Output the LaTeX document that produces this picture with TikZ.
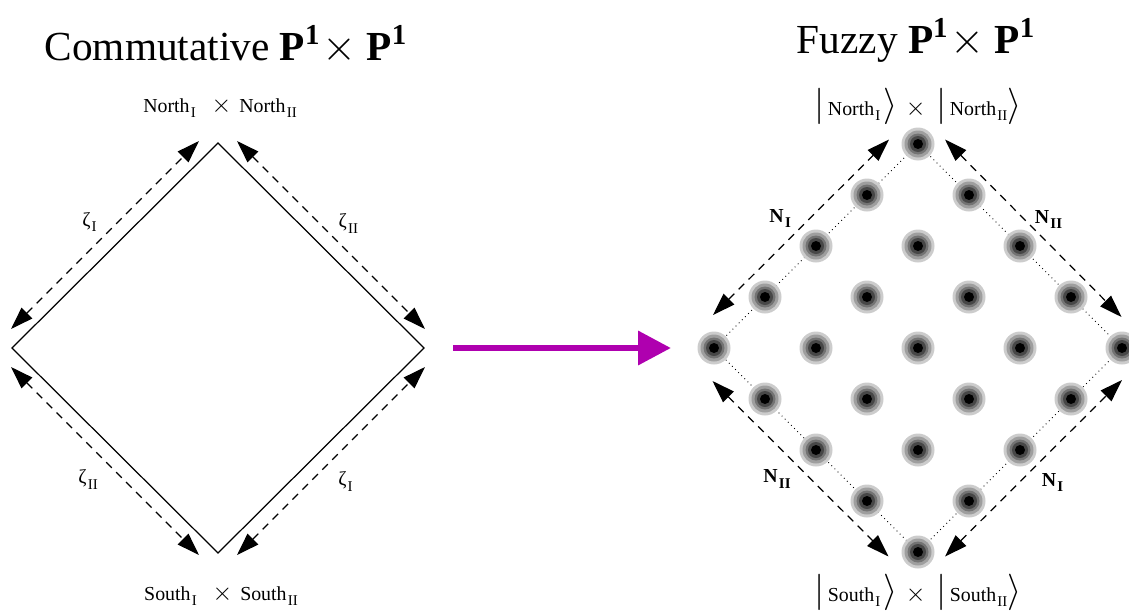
\documentclass[tikz,border=0pt]{standalone}
\usepackage{fontspec}
\setmainfont{Liberation Serif}
\usetikzlibrary{arrows.meta}

\definecolor{mapcolor}{RGB}{175,0,175}
% lowered roman index, as in North_I
\newcommand{\lsub}[1]{\kern0.06em\raisebox{-3.2pt}{\fontsize{8.5}{9}\selectfont#1}}
% large cross and ket delimiters
\newcommand{\bigcross}{{\fontsize{15}{15}\selectfont$\times$}}
\newcommand{\ketl}{{\fontsize{21}{21}\selectfont$|$}}
\newcommand{\ketr}{{\fontsize{21}{21}\selectfont$\rangle$}}

\begin{document}
\begin{tikzpicture}[>={Triangle[length=0.45cm,width=0.3cm]},
    font=\fontsize{11.3}{13.5}\selectfont,
    dasharrow/.style={<->,line width=0.7pt,dash pattern=on 4.5pt off 3.5pt},
    bigtitle/.style={anchor=base,font=\fontsize{23.5}{28}\selectfont}]
    \useasboundingbox (-4.36,-5.24) rectangle (18.22,6.96);

    % commutative side
    \node[bigtitle] (ctitle) at (0.16,5.76) {Commutative $\mathbf{P^1}\!\times\mathbf{P^1}$};
    \node[anchor=base] (cnorth) at (0.04,4.72)
        {North\lsub{I}\hspace{0.8em}\bigcross\hspace{0.4em}North\lsub{II}};
    \node[anchor=base] (csouth) at (0.06,-5.04)
        {South\lsub{I}\hspace{0.8em}\bigcross\hspace{0.4em}South\lsub{II}};

    \coordinate (cN) at (0,4.1);
    \coordinate (cE) at (4.12,0);
    \coordinate (cS) at (0,-4.1);
    \coordinate (cW) at (-4.12,0);
    \draw[line width=0.7pt] (cN)--(cE)--(cS)--(cW)--cycle;

    \coordinate (c1) at (-4.14,0.38);
    \coordinate (c2) at (-0.38,4.14);
    \coordinate (c3) at (0.38,4.14);
    \coordinate (c4) at (4.14,0.38);
    \coordinate (c5) at (-4.14,-0.38);
    \coordinate (c6) at (-0.38,-4.14);
    \coordinate (c7) at (0.38,-4.14);
    \coordinate (c8) at (4.14,-0.38);
    \draw[dasharrow] (c1)--node[pos=0.57,left=0.3cm]{ζ\lsub{I}}(c2);
    \draw[dasharrow] (c3)--node[pos=0.44,right=0.25cm]{ζ\lsub{II}}(c4);
    \draw[dasharrow] (c5)--node[pos=0.6,left=0.39cm]{ζ\lsub{II}}(c6);
    \draw[dasharrow] (c7)--node[pos=0.39,right=0.43cm]{ζ\lsub{I}}(c8);

    % map
    \coordinate (mapstart) at (4.7,0);
    \coordinate (mapend) at (9.06,0);
    \draw[mapcolor,line width=3.8pt,-{Triangle[length=0.66cm,width=0.66cm]}] (mapstart)--(mapend);

    % fuzzy side
    \node[bigtitle] (ftitle) at (13.96,5.9) {Fuzzy $\mathbf{P^1}\!\times\mathbf{P^1}$};
    \node[anchor=base] (fnorth) at (14.0,4.66)
        {\ketl\,North\lsub{I}\,\ketr\hspace{0.4em}\bigcross\hspace{0.55em}\ketl\,North\lsub{II}\ketr};
    \node[anchor=base] (fsouth) at (14.0,-5.06)
        {\ketl\,South\lsub{I}\,\ketr\hspace{0.4em}\bigcross\hspace{0.55em}\ketl\,South\lsub{II}\ketr};

    \coordinate (fN) at (14,4.08);
    \coordinate (fE) at (18.08,0);
    \coordinate (fS) at (14,-4.08);
    \coordinate (fW) at (9.92,0);
    \draw[dotted,line width=0.5pt] (fN)--(fE)--(fS)--(fW)--cycle;

    \foreach \i in {0,...,4}
      \foreach \j in {0,...,4} {
        \coordinate (d\i\j) at ({14+1.02*(\j-\i)},{4.08-1.02*(\i+\j)});
        \foreach \r/\c in {0.33/20,0.27/38,0.21/55,0.16/72,0.1/100}
          \fill[black!\c] (d\i\j) circle (\r);
      }

    \coordinate (f1) at (9.9,0.66);
    \coordinate (f2) at (13.42,4.17);
    \coordinate (f3) at (14.54,4.17);
    \coordinate (f4) at (18.07,0.62);
    \coordinate (f5) at (9.89,-0.66);
    \coordinate (f6) at (13.41,-4.17);
    \coordinate (f7) at (14.54,-4.17);
    \coordinate (f8) at (18.08,-0.64);
    \draw[dasharrow] (f1)--node[pos=0.55,left=0.25cm]{$\mathbf{N}$\lsub{\bfseries I}}(f2);
    \draw[dasharrow] (f3)--node[pos=0.45,right=0.08cm]{$\mathbf{N}$\lsub{\bfseries II}}(f4);
    \draw[dasharrow] (f5)--node[pos=0.56,left=0.28cm]{$\mathbf{N}$\lsub{\bfseries II}}(f6);
    \draw[dasharrow] (f7)--node[pos=0.42,right=0.32cm]{$\mathbf{N}$\lsub{\bfseries I}}(f8);
\end{tikzpicture}
\end{document}
